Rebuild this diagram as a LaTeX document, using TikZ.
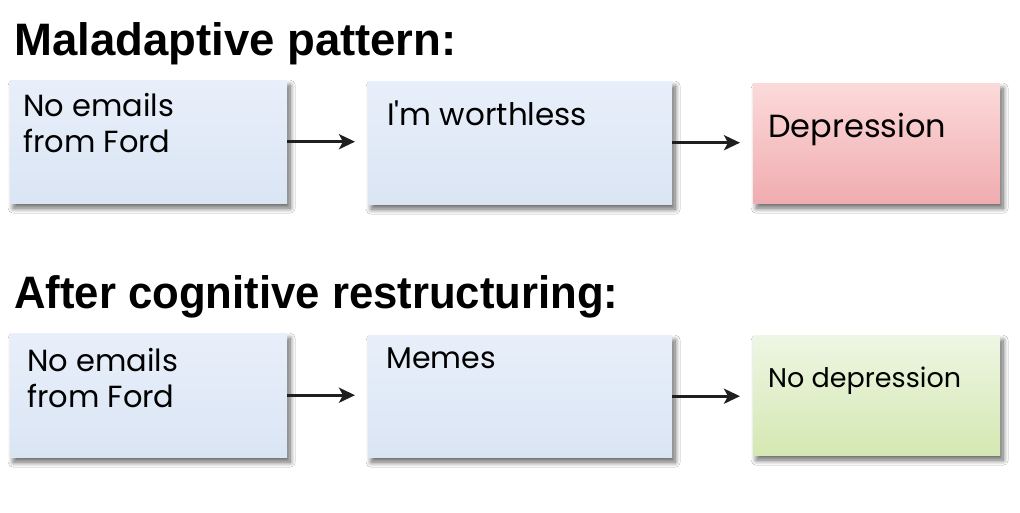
\documentclass[tikz,border=0pt]{standalone}
\usepackage{fontspec}
\setmainfont{Poppins}
\newfontfamily\popplain{Poppins}[Ligatures=ResetAll]
\newfontfamily\titlefont{Liberation Sans}
\usetikzlibrary{shadows.blur,arrows.meta}
\definecolor{bluetop}{RGB}{232,239,250}
\definecolor{bluebot}{RGB}{218,229,244}
\definecolor{pinktop}{RGB}{252,218,218}
\definecolor{pinkbot}{RGB}{240,172,176}
\definecolor{greentop}{RGB}{238,246,228}
\definecolor{greenbot}{RGB}{212,232,178}
\tikzset{
  box/.style={rectangle, anchor=north west, inner sep=0pt,
    blur shadow={shadow xshift=3pt, shadow yshift=-5pt, shadow blur steps=10, shadow blur radius=5pt, shadow opacity=60}},
  bluebox/.style={box, top color=bluetop, bottom color=bluebot},
  pinkbox/.style={box, top color=pinktop, bottom color=pinkbot},
  greenbox/.style={box, top color=greentop, bottom color=greenbot},
  title/.style={anchor=base west, inner sep=0pt, font=\titlefont\bfseries\fontsize{45.5}{50}\selectfont},
  txt/.style={anchor=base west, inner sep=0pt, align=left},
  arr/.style={-{Stealth[length=16pt,width=15pt,inset=4pt]}, line width=3.2pt, black!88, shorten >=13pt},
}
\begin{document}
\begin{tikzpicture}[x=1pt,y=-1pt]
\useasboundingbox[fill=white] (0,0) rectangle (1020,512);
% titles
\node[title] (t1) at (14,55) {Maladaptive pattern:};
\node[title] (t2) at (14,308) {\scalebox{0.96}[1]{After cognitive restructuring:}};
% row 1
\node[bluebox, minimum width=277pt, minimum height=123pt] (a1) at (10,80) {};
\node[bluebox, minimum width=304pt, minimum height=123pt] (b1) at (368,81) {};
\node[pinkbox, minimum width=247pt, minimum height=120pt] (c1) at (753,83) {};
\node[txt, font=\fontsize{30.5}{36}\selectfont] (a1t) at (23,152) {No emails\\from Ford};
\node[txt, font=\fontsize{31}{36}\selectfont] (b1t) at (387,125) {I{\popplain '}m worthless};
\node[txt, font=\fontsize{32}{36}\selectfont] (c1t) at (768,137) {Depression};
% row 2
\node[bluebox, minimum width=277pt, minimum height=124pt] (a2) at (10,333) {};
\node[bluebox, minimum width=304pt, minimum height=122pt] (b2) at (368,335) {};
\node[greenbox, minimum width=247pt, minimum height=120pt] (c2) at (753,335) {};
\node[txt, font=\fontsize{30.5}{36}\selectfont] (a2t) at (27,407) {No emails\\from Ford};
\node[txt, font=\fontsize{30}{36}\selectfont] (b2t) at (386,368) {Memes};
\node[txt, font=\fontsize{27}{36}\selectfont] (c2t) at (768,387) {No depression};
% arrows
\draw[arr] (a1.east) -- (b1.west |- a1.east);
\draw[arr] (b1.east) -- (c1.west |- b1.east);
\draw[arr] (a2.east) -- (b2.west |- a2.east);
\draw[arr] (b2.east) -- (c2.west |- b2.east);
\end{tikzpicture}
\end{document}
